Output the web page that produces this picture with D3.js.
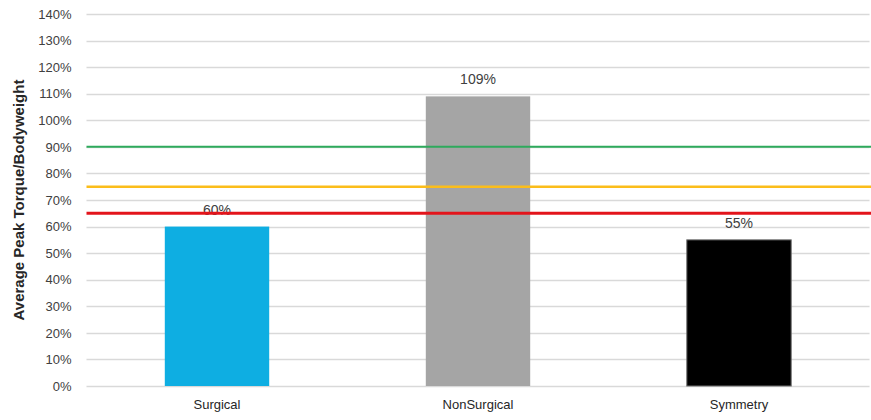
<!DOCTYPE html>
<html>
<head>
<meta charset="utf-8">
<script src="https://cdn.jsdelivr.net/npm/d3@7"></script>
<style>
  html, body { margin: 0; padding: 0; background: #fff; }
  svg { display: block; }
  text { font-family: "Liberation Sans", Arial, sans-serif; }
</style>
</head>
<body>
<svg id="chart" width="871" height="420"></svg>
<script>
// Bar values (fraction of bodyweight)
const categories = ["Surgical", "NonSurgical", "Symmetry"];
const values = [0.60, 1.09, 0.55];
const barColors = ["#0eaee2", "#a5a5a5", "#000000"];

// Reference thresholds drawn across the plot
const thresholdValues = [0.90, 0.75, 0.65];
const thresholdColors = ["#2eaa5c", "#fbbd1a", "#e3141b"];
const thresholdWidths = [2, 2.5, 3];

// Y axis ticks 0%..140%
const yTicks = [0, 0.1, 0.2, 0.3, 0.4, 0.5, 0.6, 0.7, 0.8, 0.9, 1.0, 1.1, 1.2, 1.3, 1.4];
const yTitle = "Average Peak Torque/Bodyweight";

const svg = d3.select("#chart");
const margin = { left: 86.5, right: 1.5, top: 14, bottom: 34 };
const W = 871, H = 420;

const x = d3.scaleBand()
  .domain(categories)
  .range([margin.left, W - margin.right])
  .paddingInner(0.6)
  .paddingOuter(0.3);

const y = d3.scaleLinear()
  .domain([0, 1.4])
  .range([H - margin.bottom, margin.top]);

const pct = d3.format(".0%");

// Gridlines
svg.append("g")
  .selectAll("line")
  .data(yTicks)
  .join("line")
  .attr("x1", margin.left)
  .attr("x2", W - margin.right)
  .attr("y1", d => Math.round(y(d)) + 0.5)
  .attr("y2", d => Math.round(y(d)) + 0.5)
  .attr("stroke", "#d9d9d9")
  .attr("stroke-width", 1.3);

// Y axis labels
const yAxis = d3.axisLeft(y).tickValues(yTicks).tickFormat(pct).tickSize(0).tickPadding(0);
const gy = svg.append("g")
  .attr("transform", `translate(${margin.left - 15},0)`)
  .call(yAxis);
gy.select(".domain").remove();
gy.selectAll("text")
  .attr("fill", "#404040")
  .style("font-size", "13px")
  .style("font-family", "'Liberation Sans', Arial, sans-serif");

// X axis labels
const xAxis = d3.axisBottom(x).tickSize(0).tickPadding(0);
const gx = svg.append("g")
  .attr("transform", `translate(0,${H - margin.bottom + 14})`)
  .call(xAxis);
gx.select(".domain").remove();
gx.selectAll("text")
  .attr("fill", "#262626")
  .style("font-size", "13px")
  .style("font-family", "'Liberation Sans', Arial, sans-serif");

// Bars
svg.append("g")
  .selectAll("rect")
  .data(values)
  .join("rect")
  .attr("x", (d, i) => x(categories[i]))
  .attr("width", x.bandwidth())
  .attr("y", d => y(d))
  .attr("height", d => y(0) - y(d))
  .attr("fill", (d, i) => barColors[i])
  .attr("stroke", (d, i) => i === 2 ? "#6e6e6e" : "none")
  .attr("stroke-width", 1);

// Value labels above bars
svg.append("g")
  .selectAll("text")
  .data(values)
  .join("text")
  .attr("x", (d, i) => x(categories[i]) + x.bandwidth() / 2)
  .attr("y", d => y(d) - 12)
  .attr("text-anchor", "middle")
  .attr("fill", "#404040")
  .style("font-size", "14px")
  .text(d => pct(d));

// Threshold lines (drawn on top)
svg.append("g")
  .selectAll("line")
  .data(thresholdValues)
  .join("line")
  .attr("x1", margin.left)
  .attr("x2", W)
  .attr("y1", d => y(d))
  .attr("y2", d => y(d))
  .attr("stroke", (d, i) => thresholdColors[i])
  .attr("stroke-width", (d, i) => thresholdWidths[i]);

// Y axis title
svg.append("text")
  .attr("transform", `translate(24,200) rotate(-90)`)
  .attr("text-anchor", "middle")
  .attr("fill", "#262626")
  .style("font-size", "15px")
  .style("font-weight", "bold")
  .text(yTitle);
</script>
</body>
</html>
